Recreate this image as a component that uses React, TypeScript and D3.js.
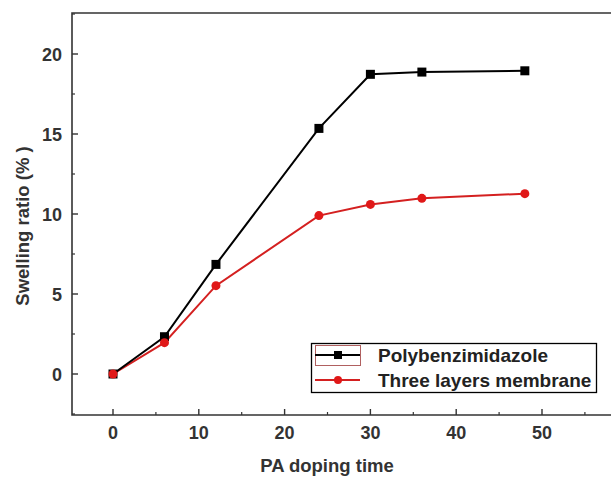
import React, { useEffect, useRef } from "react";
import * as d3 from "d3";

const dopingTime = [0, 6, 12, 24, 30, 36, 48];
const pbiSwelling = [0, 2.33, 6.85, 15.35, 18.73, 18.87, 18.95];
const threeLayerSwelling = [0, 1.96, 5.52, 9.9, 10.6, 10.98, 11.27];
const xTicks = [0, 10, 20, 30, 40, 50];
const yTicks = [0, 5, 10, 15, 20];
const seriesNames = ["Polybenzimidazole", "Three layers membrane"];

const W = 611;
const H = 477;
const font = "'Liberation Sans', Arial, sans-serif";
const axisColor = "#333";

const App = () => {
  const svgRef = useRef<SVGSVGElement>(null);

  useEffect(() => {
    const svg = d3.select(svgRef.current);
    svg.selectAll("*").remove();

    // plot frame in pixels
    const left = 72, top = 13, bottom = 415, right = 613;

    const x = d3.scaleLinear().domain([0, 50]).range([113, 542]);
    const y = d3.scaleLinear().domain([0, 20]).range([374, 54]);

    // frame: left, top, bottom (right side runs off the picture)
    svg.append("path")
      .attr("d", `M${right},${top}H${left}V${bottom}H${right}`)
      .attr("fill", "none")
      .attr("stroke", axisColor)
      .attr("stroke-width", 1.6);

    // x ticks (inward)
    const xMinor = d3.range(5, 60, 10);
    svg.selectAll(".xt").data(xTicks).join("line")
      .attr("x1", (d) => x(d)).attr("x2", (d) => x(d))
      .attr("y1", bottom).attr("y2", bottom - 6)
      .attr("stroke", axisColor).attr("stroke-width", 1.4);
    svg.selectAll(".xm").data(xMinor).join("line")
      .attr("x1", (d) => x(d)).attr("x2", (d) => x(d))
      .attr("y1", bottom).attr("y2", bottom - 3)
      .attr("stroke", axisColor).attr("stroke-width", 1.2);
    svg.selectAll(".xl").data(xTicks).join("text")
      .attr("x", (d) => x(d)).attr("y", 439)
      .attr("text-anchor", "middle")
      .attr("font-family", font).attr("font-weight", "bold")
      .attr("font-size", 18).attr("fill", axisColor)
      .text((d) => d);

    // y ticks (inward)
    const yMinor = d3.range(-2.5, 23, 5);
    svg.selectAll(".yt").data(yTicks).join("line")
      .attr("x1", left).attr("x2", left + 6)
      .attr("y1", (d) => y(d)).attr("y2", (d) => y(d))
      .attr("stroke", axisColor).attr("stroke-width", 1.4);
    svg.selectAll(".ym").data(yMinor).join("line")
      .attr("x1", left).attr("x2", left + 3)
      .attr("y1", (d) => y(d)).attr("y2", (d) => y(d))
      .attr("stroke", axisColor).attr("stroke-width", 1.2);
    svg.selectAll(".yl").data(yTicks).join("text")
      .attr("x", 62).attr("y", (d) => y(d) + 6.5)
      .attr("text-anchor", "end")
      .attr("font-family", font).attr("font-weight", "bold")
      .attr("font-size", 18).attr("fill", axisColor)
      .text((d) => d);

    // axis titles
    svg.append("text")
      .attr("x", 327).attr("y", 472)
      .attr("text-anchor", "middle")
      .attr("font-family", font).attr("font-weight", "bold")
      .attr("font-size", 18.5).attr("fill", axisColor)
      .text("PA doping time");
    svg.append("text")
      .attr("transform", "translate(29,226) rotate(-90)")
      .attr("text-anchor", "middle")
      .attr("font-family", font).attr("font-weight", "bold")
      .attr("font-size", 18.5).attr("fill", axisColor)
      .text("Swelling ratio (% )");

    const line = d3.line<number>()
      .x((_, i) => x(dopingTime[i]))
      .y((d) => y(d));

    // red series
    svg.append("path").datum(threeLayerSwelling)
      .attr("d", line).attr("fill", "none")
      .attr("stroke", "#d42020").attr("stroke-width", 2);
    // black series
    svg.append("path").datum(pbiSwelling)
      .attr("d", line).attr("fill", "none")
      .attr("stroke", "#000").attr("stroke-width", 2);
    svg.selectAll(".sq").data(pbiSwelling).join("rect")
      .attr("x", (_, i) => x(dopingTime[i]) - 4.5)
      .attr("y", (d) => y(d) - 4.5)
      .attr("width", 9).attr("height", 9)
      .attr("fill", "#000");
    svg.selectAll(".ci").data(threeLayerSwelling).join("circle")
      .attr("cx", (_, i) => x(dopingTime[i]))
      .attr("cy", (d) => y(d))
      .attr("r", 4.5)
      .attr("fill", "#e01818");

    // legend
    const lg = svg.append("g");
    lg.append("rect")
      .attr("x", 311.5).attr("y", 343.5)
      .attr("width", 285).attr("height", 49)
      .attr("fill", "#fff").attr("stroke", "#000").attr("stroke-width", 1.3);
    lg.append("rect")
      .attr("x", 315.5).attr("y", 345.5)
      .attr("width", 45).attr("height", 20)
      .attr("fill", "none").attr("stroke", "#b06060").attr("stroke-width", 1);
    const rows = [
      { y: 355, color: "#000", shape: "square" },
      { y: 380, color: "#d42020", shape: "circle" },
    ];
    rows.forEach((r, i) => {
      lg.append("line")
        .attr("x1", 315).attr("x2", 360)
        .attr("y1", r.y).attr("y2", r.y)
        .attr("stroke", r.color).attr("stroke-width", 2);
      if (r.shape === "square") {
        lg.append("rect")
          .attr("x", 334).attr("y", r.y - 4)
          .attr("width", 8).attr("height", 8).attr("fill", "#000");
      } else {
        lg.append("circle")
          .attr("cx", 338).attr("cy", r.y).attr("r", 4)
          .attr("fill", "#e01818");
      }
      lg.append("text")
        .attr("x", 378).attr("y", r.y + 6.5)
        .attr("font-family", font).attr("font-weight", "bold")
        .attr("font-size", 19).attr("fill", "#222")
        .text(seriesNames[i]);
    });
  }, []);

  return (
    <svg
      ref={svgRef}
      width={W}
      height={H}
      style={{ position: "absolute", left: 0, top: 0, background: "#fff" }}
    />
  );
};

export default App;
